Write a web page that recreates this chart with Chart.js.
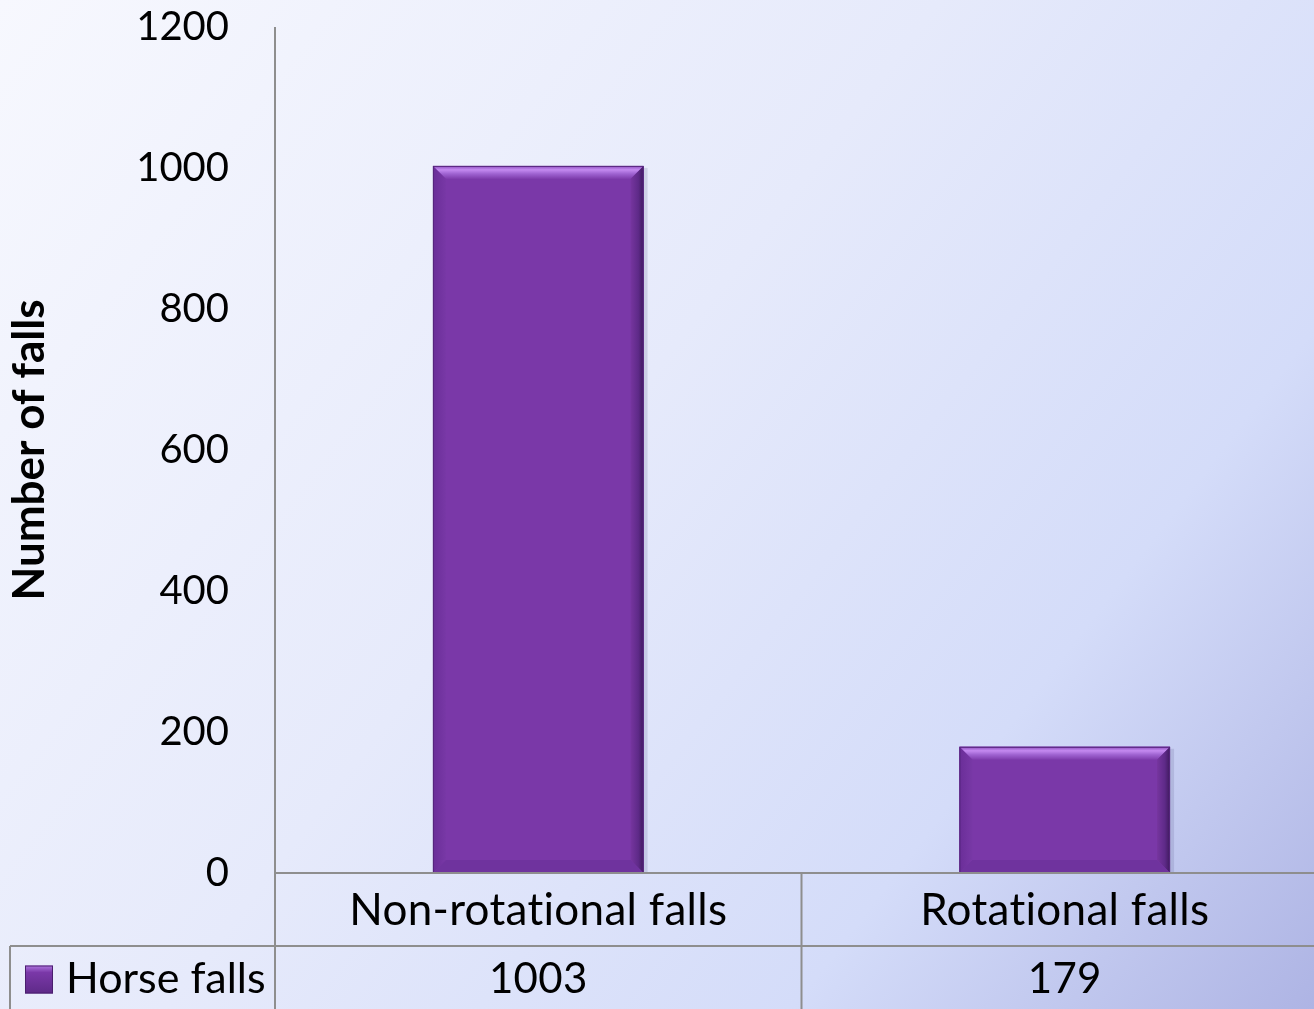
<!DOCTYPE html>
<html>
<head>
<meta charset="utf-8">
<script src="https://cdn.jsdelivr.net/npm/chart.js@4.4.1/dist/chart.umd.min.js"></script>
<style>
html, body { margin: 0; padding: 0; overflow: hidden; }
#wrap { width: 1328px; height: 1009px; position: relative; }
</style>
</head>
<body>
<div id="wrap"><canvas id="fallsChart"></canvas></div>
<script>
const categories = ['Non-rotational falls', 'Rotational falls'];
const seriesName = 'Horse falls';
const horseFalls = [1003, 179];
const yTicks = [0, 200, 400, 600, 800, 1000, 1200];

const FONT = 'Lato, "Open Sans", sans-serif';
const LINE = '#8e8e8e';

// background gradient (light top-left to lavender bottom-right)
const backgroundPlugin = {
    id: 'background',
    beforeDraw(chart) {
        const ctx = chart.ctx;
        const g = ctx.createLinearGradient(0, 0, 1314, 1009);
        g.addColorStop(0, '#f7f8fe');
        g.addColorStop(0.45, '#e6eafb');
        g.addColorStop(0.75, '#d4dcf9');
        g.addColorStop(1, '#aeb4e4');
        ctx.save();
        ctx.fillStyle = g;
        ctx.fillRect(0, 0, chart.width, chart.height);
        ctx.restore();
    }
};

// bevel look on the bars
const bevelPlugin = {
    id: 'bevel',
    afterDatasetsDraw(chart) {
        const ctx = chart.ctx;
        const meta = chart.getDatasetMeta(0);
        meta.data.forEach(bar => {
            const l = bar.x - bar.width / 2, r = bar.x + bar.width / 2;
            const t = bar.y, b = bar.base;
            const s = 13;
            ctx.save();
            // soft shadow
            ctx.fillStyle = 'rgba(90,90,140,0.18)';
            ctx.fillRect(r, t + 2, 4, b - t - 2);
            // inner face
            ctx.fillStyle = '#7a38a8';
            ctx.fillRect(l, t, r - l, b - t);
            // top
            const gt = ctx.createLinearGradient(0, t, 0, t + s);
            gt.addColorStop(0, '#8d4cbd');
            gt.addColorStop(0.3, '#c48af0');
            gt.addColorStop(0.6, '#a064d2');
            gt.addColorStop(1, '#7e3cac');
            ctx.fillStyle = gt;
            ctx.beginPath();
            ctx.moveTo(l, t); ctx.lineTo(r, t); ctx.lineTo(r - s, t + s); ctx.lineTo(l + s, t + s);
            ctx.closePath(); ctx.fill();
            // right
            const gr = ctx.createLinearGradient(r - s, 0, r, 0);
            gr.addColorStop(0, '#76359f');
            gr.addColorStop(0.6, '#5e2a88');
            gr.addColorStop(1, '#3f1a5e');
            ctx.fillStyle = gr;
            ctx.beginPath();
            ctx.moveTo(r, t); ctx.lineTo(r, b); ctx.lineTo(r - s, b - s); ctx.lineTo(r - s, t + s);
            ctx.closePath(); ctx.fill();
            // left
            const gl = ctx.createLinearGradient(l, 0, l + s, 0);
            gl.addColorStop(0, '#6a2e98');
            gl.addColorStop(1, '#7838a6');
            ctx.fillStyle = gl;
            ctx.beginPath();
            ctx.moveTo(l, t); ctx.lineTo(l + s, t + s); ctx.lineTo(l + s, b - s); ctx.lineTo(l, b);
            ctx.closePath(); ctx.fill();
            // bottom
            ctx.fillStyle = '#6f339e';
            ctx.beginPath();
            ctx.moveTo(l, b); ctx.lineTo(l + s, b - s); ctx.lineTo(r - s, b - s); ctx.lineTo(r, b);
            ctx.closePath(); ctx.fill();
            ctx.strokeStyle = '#55257c';
            ctx.lineWidth = 1;
            ctx.strokeRect(l + 0.5, t + 0.5, r - l - 1, b - t - 1);
            ctx.restore();
        });
    }
};

// data table under the plot
const tablePlugin = {
    id: 'dataTable',
    afterDraw(chart) {
        const ctx = chart.ctx;
        const area = chart.chartArea;
        const x = chart.scales.x;
        const row1 = area.bottom + 73;
        const bottom = chart.height;
        const divider = (x.getPixelForValue(0) + x.getPixelForValue(1)) / 2;
        ctx.save();
        ctx.strokeStyle = LINE;
        ctx.lineWidth = 2;
        ctx.beginPath();
        ctx.moveTo(area.left, area.bottom); ctx.lineTo(chart.width, area.bottom);
        ctx.moveTo(area.left, area.top); ctx.lineTo(area.left, bottom);
        ctx.moveTo(10, row1); ctx.lineTo(chart.width, row1);
        ctx.moveTo(10, row1); ctx.lineTo(10, bottom);
        ctx.moveTo(divider, area.bottom); ctx.lineTo(divider, bottom);
        ctx.stroke();

        ctx.fillStyle = '#000';
        ctx.textAlign = 'center';
        ctx.textBaseline = 'middle';
        ctx.letterSpacing = '0.3px';
        categories.forEach((c, i) => {
            const cx = x.getPixelForValue(i);
            ctx.font = '44px ' + FONT;
            ctx.fillText(c, cx, (area.bottom + row1) / 2 + 1);
            ctx.font = '42px ' + FONT;
            ctx.fillText(String(horseFalls[i]), cx, (row1 + bottom) / 2 + 2);
        });

        // legend key
        const ky = (row1 + bottom) / 2 + 2;
        const g = ctx.createLinearGradient(25, ky - 14, 25, ky + 14);
        g.addColorStop(0, '#b077e0');
        g.addColorStop(0.25, '#7a38a8');
        g.addColorStop(1, '#5e2a88');
        ctx.fillStyle = g;
        ctx.fillRect(25, ky - 14, 28, 28);
        ctx.strokeStyle = '#4a1f6e';
        ctx.lineWidth = 1;
        ctx.strokeRect(25.5, ky - 13.5, 27, 27);
        ctx.textAlign = 'left';
        ctx.fillStyle = '#000';
        ctx.letterSpacing = '0px';
        ctx.font = '43px ' + FONT;
        ctx.fillText(seriesName, 66, ky);
        ctx.restore();
    }
};

const ctx = document.getElementById('fallsChart').getContext('2d');
const fallsChart = new Chart(ctx, {
    type: 'bar',
    data: {
        labels: categories,
        datasets: [{
            label: seriesName,
            data: horseFalls,
            backgroundColor: '#7a38a8',
            barPercentage: 0.4,
            categoryPercentage: 1
        }]
    },
    options: {
        responsive: true,
        maintainAspectRatio: false,
        animation: false,
        layout: { padding: { top: 27, right: 0, left: 0, bottom: 0 } },
        plugins: {
            legend: { display: false },
            tooltip: { enabled: false }
        },
        scales: {
            x: {
                grid: { display: false },
                border: { display: false },
                ticks: { display: false },
                afterFit(scale) { scale.height = 136; }
            },
            y: {
                min: 0,
                max: 1200,
                afterBuildTicks(scale) { scale.ticks = yTicks.map(v => ({ value: v })); },
                grid: { display: false, drawTicks: false },
                border: { display: false },
                ticks: {
                    padding: 46,
                    color: '#000',
                    font: { family: FONT, size: 40 },
                    callback: v => String(v)
                },
                title: {
                    display: true,
                    text: 'Number of falls',
                    color: '#000',
                    font: { family: FONT, size: 44, weight: 'bold' },
                    padding: { top: 3, bottom: 0 }
                },
                afterFit(scale) {
                    scale.width = 275;
                    scale.paddingTop = 0;
                    scale.paddingBottom = 0;
                }
            }
        }
    },
    plugins: [backgroundPlugin, bevelPlugin, tablePlugin]
});
</script>
</body>
</html>
